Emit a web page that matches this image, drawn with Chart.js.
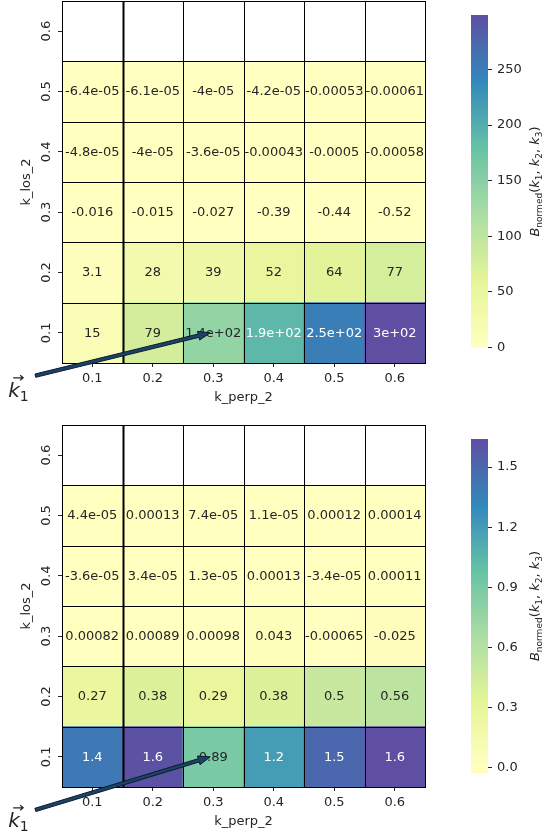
<!DOCTYPE html>
<html lang="en">
<head>
<meta charset="UTF-8">
<title>B_normed heatmaps</title>
<style>
  body { margin: 0; background: #fff; }
  .wrap { position: relative; width: 542px; height: 836px; }
  canvas { position: absolute; }
</style>
</head>
<body>
<div class="wrap">
  <canvas id="heatTop" width="440" height="418" style="left:0;top:0"></canvas>
  <canvas id="barTop" width="102" height="418" style="left:440px;top:0"></canvas>
  <canvas id="heatBot" width="440" height="418" style="left:0;top:418px"></canvas>
  <canvas id="barBot" width="102" height="418" style="left:440px;top:418px"></canvas>
</div>

<script src="https://cdn.jsdelivr.net/npm/chart.js"></script>
<script>
// tick labels
const kPerpLabels = ['0.1', '0.2', '0.3', '0.4', '0.5', '0.6'];
const kLosLabels = ['0.1', '0.2', '0.3', '0.4', '0.5', '0.6'];

// upper panel, one array per k_los_2 row (0.1 at the bottom)
const topRow01 = [15, 79, 140, 190, 250, 299];
const topRow02 = [3.1, 28, 39, 52, 64, 77];
const topRow03 = [-0.016, -0.015, -0.027, -0.39, -0.44, -0.52];
const topRow04 = [-4.8e-05, -4e-05, -3.6e-05, -0.00043, -0.0005, -0.00058];
const topRow05 = [-6.4e-05, -6.1e-05, -4e-05, -4.2e-05, -0.00053, -0.00061];
const topRow06 = [null, null, null, null, null, null];

// lower panel
const botRow01 = [1.4, 1.62, 0.89, 1.2, 1.5, 1.64];
const botRow02 = [0.27, 0.38, 0.29, 0.38, 0.5, 0.56];
const botRow03 = [0.00082, 0.00089, 0.00098, 0.043, -0.00065, -0.025];
const botRow04 = [-3.6e-05, 3.4e-05, 1.3e-05, 0.00013, -3.4e-05, 0.00011];
const botRow05 = [4.4e-05, 0.00013, 7.4e-05, 1.1e-05, 0.00012, 0.00014];
const botRow06 = [null, null, null, null, null, null];

// colorbar ticks
const topCbTicks = [0, 50, 100, 150, 200, 250];
const botCbTicks = [0.0, 0.3, 0.6, 0.9, 1.2, 1.5];

// Spectral colormap stops
const spectral = ['#9e0142', '#d53e4f', '#f46d43', '#fdae61', '#fee08b', '#ffffbf',
                  '#e6f598', '#abdda4', '#66c2a5', '#3288bd', '#5e4fa2'];

Chart.defaults.font.family = '"DejaVu Sans", sans-serif';
Chart.defaults.font.size = 13;
Chart.defaults.color = '#262626';

function hexToRgb(h) {
  return [parseInt(h.slice(1, 3), 16), parseInt(h.slice(3, 5), 16), parseInt(h.slice(5, 7), 16)];
}

function cmapRgb(t) {
  t = Math.max(0, Math.min(1, t));
  const pos = t * (spectral.length - 1);
  const i = Math.min(Math.floor(pos), spectral.length - 2);
  const f = pos - i;
  const a = hexToRgb(spectral[i]), b = hexToRgb(spectral[i + 1]);
  return a.map((c, k) => Math.round(c + (b[k] - c) * f));
}

// seaborn with center=0: colormap spans [-vmax, vmax]
function cellRgb(v, vmax) {
  return cmapRgb(0.5 + 0.5 * v / vmax);
}

function textColor(rgb) {
  const lin = rgb.map(c => {
    c = c / 255;
    return c <= 0.03928 ? c / 12.92 : Math.pow((c + 0.055) / 1.055, 2.4);
  });
  const lum = 0.2126 * lin[0] + 0.7152 * lin[1] + 0.0722 * lin[2];
  return lum > 0.408 ? '#262626' : '#ffffff';
}

// python-style '.2g'
function fmt2g(v) {
  if (v === 0) return '0';
  const p = Number(v.toPrecision(2));
  const e = Math.floor(Math.log10(Math.abs(p)) + 1e-9);
  if (e < -4 || e >= 2) {
    let [m, ex] = p.toExponential(1).split('e');
    m = m.replace(/\.0$/, '');
    const sign = ex[0] === '-' ? '-' : '+';
    return m + 'e' + sign + ex.replace(/^[+-]/, '').padStart(2, '0');
  }
  let s = p.toPrecision(2);
  if (s.includes('.')) s = s.replace(/0+$/, '').replace(/\.$/, '');
  return s;
}

function drawArrow(ctx, x0, y0, x1, y1) {
  const dx = x1 - x0, dy = y1 - y0;
  const len = Math.hypot(dx, dy);
  const ux = dx / len, uy = dy / len;
  const nx = -uy, ny = ux;
  const w = 1.7, hw = 4.5, hl = 12;
  const bx = x1 - ux * hl, by = y1 - uy * hl;
  ctx.save();
  ctx.beginPath();
  ctx.moveTo(x0 + nx * w, y0 + ny * w);
  ctx.lineTo(bx + nx * w, by + ny * w);
  ctx.lineTo(bx + nx * hw, by + ny * hw);
  ctx.lineTo(x1, y1);
  ctx.lineTo(bx - nx * hw, by - ny * hw);
  ctx.lineTo(bx - nx * w, by - ny * w);
  ctx.lineTo(x0 - nx * w, y0 - ny * w);
  ctx.closePath();
  ctx.fillStyle = '#1b4268';
  ctx.fill();
  ctx.lineWidth = 1;
  ctx.strokeStyle = '#0d1b2a';
  ctx.stroke();
  ctx.restore();
}

function drawVecK(ctx, x, y) {
  ctx.save();
  ctx.fillStyle = '#262626';
  ctx.textAlign = 'left';
  ctx.textBaseline = 'alphabetic';
  ctx.font = 'italic 20px "DejaVu Sans"';
  ctx.fillText('k', x, y);
  const wk = ctx.measureText('k').width;
  ctx.font = '14px "DejaVu Sans"';
  ctx.fillText('1', x + wk, y + 4);
  // vector accent
  const ay = y - 19, ax0 = x + 5, ax1 = x + 15;
  ctx.strokeStyle = '#262626';
  ctx.lineWidth = 1.2;
  ctx.beginPath();
  ctx.moveTo(ax0, ay); ctx.lineTo(ax1, ay);
  ctx.moveTo(ax1 - 3, ay - 2.5); ctx.lineTo(ax1, ay); ctx.lineTo(ax1 - 3, ay + 2.5);
  ctx.stroke();
  ctx.restore();
}

const heatExtras = {
  id: 'heatExtras',
  afterDatasetsDraw(chart, args, opts) {
    const ctx = chart.ctx;
    const xs = chart.scales.x, ys = chart.scales.y;
    const ca = chart.chartArea;

    // annotations
    ctx.save();
    ctx.font = '13px "DejaVu Sans"';
    ctx.textAlign = 'center';
    ctx.textBaseline = 'middle';
    chart.data.datasets.forEach((ds, i) => {
      chart.getDatasetMeta(i).data.forEach((el, j) => {
        const v = ds.values[j];
        if (v == null) return;
        const p = el.getProps(['x', 'y', 'base'], true);
        ctx.fillStyle = textColor(cellRgb(v, opts.vmax));
        ctx.fillText(fmt2g(v), p.x, (p.y + p.base) / 2 + 0.5);
      });
    });

    // cell lines
    ctx.strokeStyle = '#000';
    ctx.lineWidth = 1;
    ctx.beginPath();
    for (let i = 0; i <= kPerpLabels.length; i++) {
      const px = Math.round(xs.getPixelForValue(i - 0.5)) + 0.5;
      ctx.moveTo(px, ca.top);
      ctx.lineTo(px, ca.bottom);
    }
    for (let j = 0; j <= kLosLabels.length; j++) {
      const py = Math.round(ys.getPixelForValue(j)) + 0.5;
      ctx.moveTo(ca.left, py);
      ctx.lineTo(ca.right + 1, py);
    }
    ctx.stroke();

    // marker line between first and second column
    ctx.lineWidth = 2;
    ctx.beginPath();
    const mx = Math.round(xs.getPixelForValue(0.5)) + 0.5;
    ctx.moveTo(mx, ca.top);
    ctx.lineTo(mx, ca.bottom + 1);
    ctx.stroke();
    ctx.restore();
  },
  afterDraw(chart, args, opts) {
    const ctx = chart.ctx;
    const xs = chart.scales.x, ys = chart.scales.y;
    const ca = chart.chartArea;

    // rotated y tick labels
    ctx.save();
    ctx.fillStyle = '#262626';
    ctx.font = '13px "DejaVu Sans"';
    ctx.textAlign = 'center';
    ctx.textBaseline = 'alphabetic';
    ys.ticks.forEach((t, i) => {
      ctx.save();
      ctx.translate(ca.left - 12, ys.getPixelForValue(t.value));
      ctx.rotate(-Math.PI / 2);
      ctx.fillText(kLosLabels[i], 0, 0);
      ctx.restore();
    });
    ctx.restore();

    // k1 arrow and label
    drawArrow(ctx,
      xs.getPixelForValue(opts.arrowFrom[0]), ys.getPixelForValue(opts.arrowFrom[1]),
      xs.getPixelForValue(opts.arrowTo[0]), ys.getPixelForValue(opts.arrowTo[1]));
    drawVecK(ctx, xs.getPixelForValue(opts.labelAt[0]), ys.getPixelForValue(opts.labelAt[1]));
  }
};

function makeHeatmap(id, rows, extras, padTop, padBottom) {
  const all = rows.flat().filter(v => v != null);
  const vmax = Math.max(...all.map(Math.abs));
  const datasets = rows.map((vals, r) => ({
    data: vals.map(() => [r, r + 1]),
    values: vals,
    backgroundColor: vals.map(v => v == null ? '#ffffff' : 'rgb(' + cellRgb(v, vmax).join(',') + ')'),
    borderWidth: 0,
    grouped: false,
    barPercentage: 1,
    categoryPercentage: 1
  }));
  return new Chart(document.getElementById(id), {
    type: 'bar',
    data: { labels: kPerpLabels, datasets },
    plugins: [heatExtras],
    options: {
      responsive: false,
      animation: false,
      events: [],
      layout: { padding: { left: 0, right: 15, top: padTop, bottom: padBottom } },
      plugins: {
        legend: { display: false },
        tooltip: { enabled: false },
        heatExtras: Object.assign({ vmax }, extras)
      },
      scales: {
        x: {
          offset: true,
          grid: { offset: false, drawOnChartArea: false, drawTicks: true, tickLength: 4, color: '#262626' },
          border: { display: false },
          ticks: { padding: 4, maxRotation: 0, color: '#262626' },
          title: { display: true, text: 'k_perp_2', padding: { top: 0, bottom: 0 }, color: '#262626' },
          afterFit: s => { s.height = 42; }
        },
        y: {
          type: 'linear',
          min: 0,
          max: kLosLabels.length,
          afterBuildTicks: s => { s.ticks = kLosLabels.map((_, i) => ({ value: i + 0.5 })); },
          grid: { drawOnChartArea: false, drawTicks: true, tickLength: 4, color: '#262626' },
          border: { display: false },
          ticks: { display: false },
          title: { display: true, text: 'k_los_2', padding: { top: 19, bottom: 0 }, color: '#262626' },
          afterFit: s => { s.width = 62; }
        }
      }
    }
  });
}

const cbLabel = {
  id: 'cbLabel',
  afterDraw(chart) {
    const ctx = chart.ctx;
    const ca = chart.chartArea;
    const big = '13px "DejaVu Sans"', it = 'italic 13px "DejaVu Sans"', sub = '9px "DejaVu Sans"';
    const segs = [['B', it, 0], ['normed', sub, 3], ['(', big, 0], ['k', it, 0], ['1', sub, 3],
                  [', ', big, 0], ['k', it, 0], ['2', sub, 3], [', ', big, 0], ['k', it, 0],
                  ['3', sub, 3], [')', big, 0]];
    ctx.save();
    let total = 0;
    segs.forEach(s => { ctx.font = s[1]; total += ctx.measureText(s[0]).width; });
    ctx.translate(99, (ca.top + ca.bottom) / 2);
    ctx.rotate(-Math.PI / 2);
    ctx.fillStyle = '#262626';
    ctx.textAlign = 'left';
    ctx.textBaseline = 'alphabetic';
    let x = -total / 2;
    segs.forEach(s => {
      ctx.font = s[1];
      ctx.fillText(s[0], x, s[2]);
      x += ctx.measureText(s[0]).width;
    });
    ctx.restore();
  }
};

function makeColorbar(id, rows, ticks, decimals, padTop, padBottom) {
  const all = rows.flat().filter(v => v != null);
  const vmin = Math.min(...all), vmax = Math.max(...all);
  const vabs = Math.max(Math.abs(vmin), Math.abs(vmax));
  return new Chart(document.getElementById(id), {
    type: 'bar',
    data: {
      labels: ['cb'],
      datasets: [{
        data: [[vmin, vmax]],
        backgroundColor: c => {
          const ch = c.chart;
          if (!ch.chartArea) return '#ffffbf';
          const y = ch.scales.y;
          const g = ch.ctx.createLinearGradient(0, y.getPixelForValue(-vabs), 0, y.getPixelForValue(vabs));
          spectral.forEach((col, i) => g.addColorStop(i / (spectral.length - 1), col));
          return g;
        },
        borderWidth: 0,
        barPercentage: 1,
        categoryPercentage: 1
      }]
    },
    plugins: [cbLabel],
    options: {
      responsive: false,
      animation: false,
      events: [],
      layout: { padding: { left: 31, right: 0, top: padTop, bottom: padBottom } },
      plugins: { legend: { display: false }, tooltip: { enabled: false } },
      scales: {
        x: { display: false },
        y: {
          position: 'right',
          min: vmin,
          max: vmax,
          afterBuildTicks: s => { s.ticks = ticks.map(v => ({ value: v })); },
          ticks: { padding: 5, color: '#262626', callback: v => v.toFixed(decimals) },
          grid: { drawOnChartArea: false, drawTicks: true, tickLength: 4, color: '#262626' },
          border: { display: false },
          afterFit: s => { s.width = 54; }
        }
      }
    }
  });
}

const topRows = [topRow01, topRow02, topRow03, topRow04, topRow05, topRow06];
const botRows = [botRow01, botRow02, botRow03, botRow04, botRow05, botRow06];

makeHeatmap('heatTop', topRows,
  { arrowFrom: [-0.94, -0.21], arrowTo: [1.95, 0.5], labelAt: [-1.39, -0.56] }, 1, 13);
makeHeatmap('heatBot', botRows,
  { arrowFrom: [-0.94, -0.38], arrowTo: [1.95, 0.5], labelAt: [-1.39, -0.66] }, 7, 7);
makeColorbar('barTop', topRows, topCbTicks, 0, 15, 70);
makeColorbar('barBot', botRows, botCbTicks, 1, 21, 63);
</script>
</body>
</html>
